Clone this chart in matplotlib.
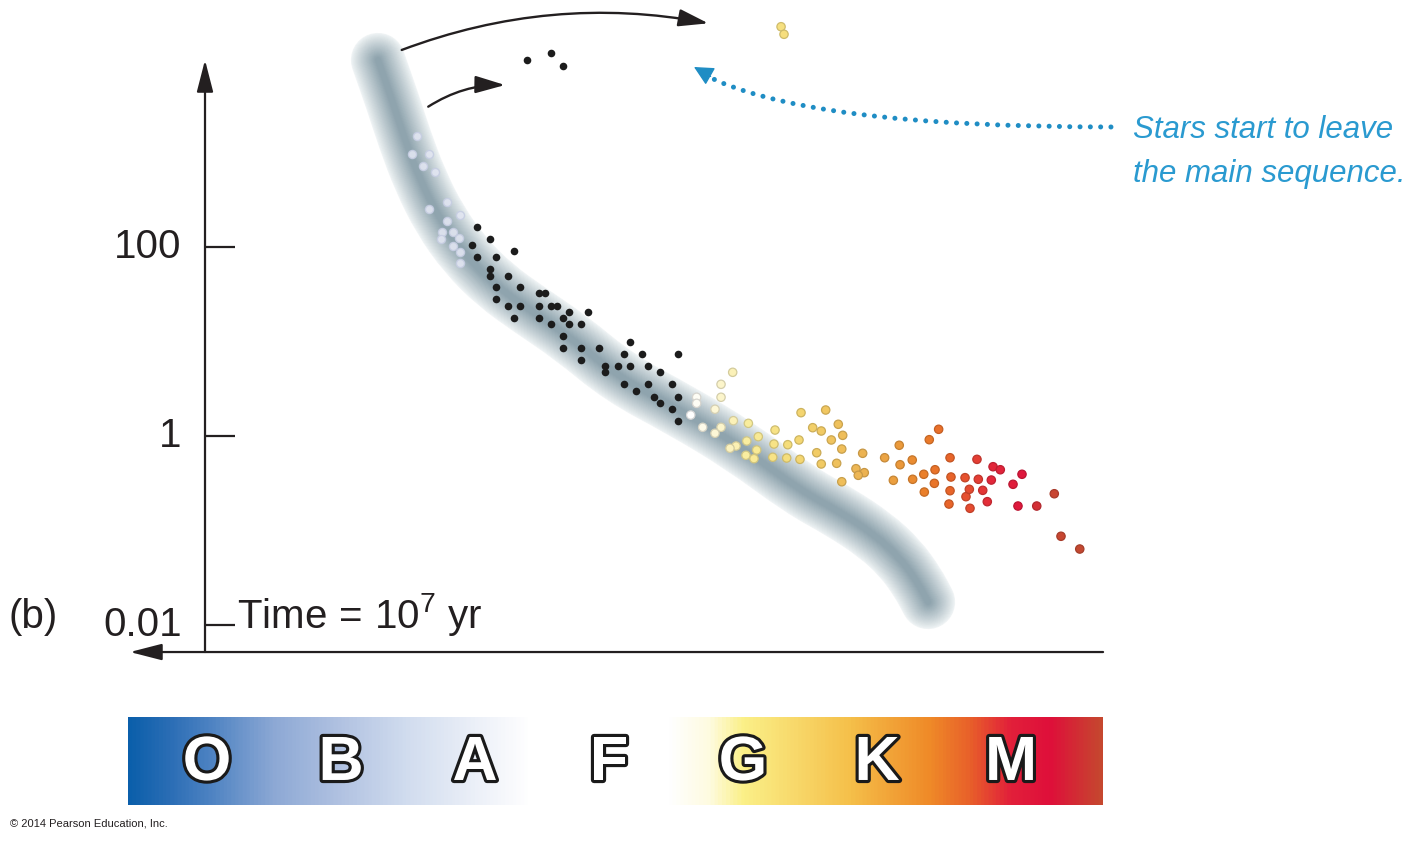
import numpy as np
import matplotlib
matplotlib.use('Agg')
import matplotlib.pyplot as plt
from matplotlib.colors import LinearSegmentedColormap, to_rgb
from matplotlib.path import Path
from matplotlib.patches import PathPatch
import matplotlib.patheffects as pe

plt.rcParams['font.family'] = ['Liberation Sans', 'DejaVu Sans']
plt.rcParams['mathtext.fontset'] = 'custom'
plt.rcParams['mathtext.rm'] = 'Liberation Sans'
plt.rcParams['mathtext.it'] = 'Liberation Sans:italic'
plt.rcParams['mathtext.bf'] = 'Liberation Sans:bold'

# ---------------- data ----------------
# x: spectral position (O=0 ... M=6), y: log10(L / Lsun)
spectral_classes = ['O', 'B', 'A', 'F', 'G', 'K', 'M']
class_pos = [0, 1, 2, 3, 4, 5, 6]
lum_ticks = [2, 0, -2]
lum_tick_labels = ['100', '1', '0.01']

# zero-age main sequence band (centre line)
ms_track_s = [1.276, 1.381, 1.478, 1.590, 1.739, 1.925, 2.149, 2.410, 2.709,
              3.082, 3.530, 3.978, 4.425, 4.724, 4.985, 5.172, 5.306, 5.381]
ms_track_logL = [3.979, 3.556, 3.132, 2.709, 2.286, 1.915, 1.598, 1.333, 1.048,
                 0.614, 0.275, -0.106, -0.571, -0.804, -1.048, -1.291, -1.556, -1.757]

# faint (pale) B stars near the top of the band
pale_s = [1.565, 1.528, 1.657, 1.614, 1.704, 1.659, 1.793, 1.886, 1.793, 1.751,
          1.838, 1.746, 1.883, 1.838, 1.888, 1.888]
pale_logL = [3.178, 2.984, 2.984, 2.860, 2.797, 2.402, 2.473, 2.339, 2.278, 2.156,
             2.156, 2.085, 2.092, 2.014, 1.950, 1.828]

# main-sequence stars (black)
black_s = [2.015, 2.112, 1.978, 2.289, 2.015, 2.157, 2.112, 2.112, 2.246, 2.157,
           2.338, 2.475, 2.520, 2.157, 2.246, 2.338, 2.475, 2.565, 2.610, 2.699,
           2.841, 2.289, 2.475, 2.654, 2.699, 2.565, 2.791, 2.654, 2.654, 2.791,
           2.928, 3.154, 2.791, 3.110, 3.244, 3.517, 2.972, 2.972, 3.065, 3.154,
           3.291, 3.381, 3.110, 3.199, 3.291, 3.472, 3.336, 3.381, 3.517, 3.472,
           3.517]
black_logL = [2.215, 2.085, 2.018, 1.958, 1.897, 1.897, 1.764, 1.696, 1.696, 1.574,
              1.574, 1.510, 1.510, 1.447, 1.376, 1.376, 1.376, 1.376, 1.376, 1.315,
              1.315, 1.252, 1.252, 1.252, 1.188, 1.188, 1.188, 1.058, 0.928, 0.928,
              0.928, 0.992, 0.801, 0.865, 0.865, 0.865, 0.738, 0.674, 0.738, 0.738,
              0.738, 0.674, 0.547, 0.479, 0.547, 0.547, 0.416, 0.352, 0.416, 0.289,
              0.159]

# massive stars that have left the main sequence
giant_black_s = [2.388, 2.565, 2.659]
giant_black_logL = [3.979, 4.050, 3.915]
giant_yellow_s = [4.284, 4.306]
giant_yellow_logL = [4.331, 4.251]

# cooler stars (coloured by spectral position)
cool_s = [3.923, 3.836, 3.836, 3.654, 3.654, 3.791, 3.610, 3.928, 4.040, 3.699,
          3.836, 3.791, 4.239, 4.433, 4.617, 4.711, 4.520, 4.584, 4.744, 4.659,
          4.114, 4.418, 4.028, 4.231, 4.334, 3.948, 3.903, 4.102, 4.737, 4.550,
          4.893, 4.022, 4.082, 4.222, 4.326, 4.425, 4.584, 4.699, 5.166, 5.057,
          5.172, 4.843, 4.905, 4.860, 4.737, 5.122, 5.263, 5.266,
          5.390, 5.460, 5.349, 5.433, 5.428, 5.353, 5.545, 5.552, 5.545, 5.537,
          5.657, 5.664, 5.689, 5.694, 5.746, 5.756, 5.789, 5.823, 5.853, 5.866,
          5.920, 6.015, 6.082, 6.052, 6.192, 6.323, 6.373, 6.513]
cool_logL = [0.674, 0.547, 0.410, 0.410, 0.346, 0.283, 0.222, 0.162, 0.134, 0.092,
             0.092, 0.029, 0.063, 0.247, 0.275, 0.124, 0.088, 0.053, 0.007, -0.042,
             -0.007, -0.042, -0.053, -0.085, -0.092, -0.106, -0.130, -0.148, -0.138, -0.177,
             -0.183, -0.204, -0.240, -0.225, -0.233, -0.247, -0.296, -0.289, -0.098, -0.230,
             -0.304, -0.346, -0.388, -0.416, -0.484, -0.469, -0.254, -0.458,
             -0.039, 0.071, -0.405, -0.357, -0.501, -0.593, -0.230, -0.434, -0.579, -0.720,
             -0.441, -0.642, -0.564, -0.765, -0.247, -0.458, -0.575, -0.695, -0.466, -0.325,
             -0.357, -0.511, -0.405, -0.741, -0.741, -0.611, -1.061, -1.196]

# ---------------- figure ----------------
fig = plt.figure(figsize=(14.11, 8.41), dpi=100)
ax = fig.add_axes([0, 0, 1, 1])
XLIM = (-1.5448, 8.985)
YLIM = (-4.2857, 4.6138)
ax.axis('off')

ink = '#231f20'

# main-sequence band (soft tube along a smoothed centre line)
pts = np.column_stack([ms_track_s, ms_track_logL])
mids = (pts[:-1] + pts[1:]) / 2
verts = [pts[0], mids[0]]
codes = [Path.MOVETO, Path.LINETO]
for k in range(1, len(pts) - 1):
    verts += [pts[k], mids[k]]
    codes += [Path.CURVE3, Path.CURVE3]
verts.append(pts[-1])
codes.append(Path.LINETO)
band_path = Path(verts, codes)

c_out = np.array(to_rgb('#f0f4f5'))
c_in = np.array(to_rgb('#8fa4ae'))
n_layers = 30
for i in range(n_layers):
    t = i / (n_layers - 1)
    lw = 39 * (1 - t) + 4 * t
    w = t ** 0.9
    col = c_out * (1 - w) + c_in * w
    ax.add_patch(PathPatch(band_path, fill=False, edgecolor=col, lw=lw,
                           capstyle='round', joinstyle='round', zorder=1))

# stars
ax.scatter(pale_s, pale_logL, s=34, facecolor='#e2e6f2', edgecolor='#c6cde2',
           linewidth=1.0, alpha=0.9, zorder=3)
ax.scatter(black_s, black_logL, s=30, color='#1c1c1c', linewidth=0, zorder=3)
ax.scatter(giant_black_s, giant_black_logL, s=30, color='#1c1c1c', linewidth=0, zorder=3)

star_stops = [(3.60, '#ffffff'), (3.85, '#fcf4c8'), (4.05, '#f9ec9a'), (4.35, '#f5dc78'),
              (4.60, '#f1c862'), (4.90, '#ecb352'), (5.15, '#eb9c3c'), (5.35, '#ea7f2a'),
              (5.55, '#e8642a'), (5.70, '#e54a30'), (5.85, '#e2283a'), (6.10, '#df163c'),
              (6.28, '#c94432'), (6.60, '#c14a30')]
s0, s1 = star_stops[0][0], star_stops[-1][0]
star_cmap = LinearSegmentedColormap.from_list(
    'stars', [((v - s0) / (s1 - s0), c) for v, c in star_stops])
cool_face = star_cmap((np.array(cool_s) - s0) / (s1 - s0))
cool_edge = cool_face.copy()
cool_edge[:, :3] *= 0.84
ax.scatter(cool_s, cool_logL, s=36, c=cool_face, edgecolors=cool_edge,
           linewidths=0.9, zorder=3)
gy_face = star_cmap((np.array(giant_yellow_s) - s0) / (s1 - s0))
gy_edge = gy_face.copy()
gy_edge[:, :3] *= 0.84
ax.scatter(giant_yellow_s, giant_yellow_logL, s=36, c=gy_face, edgecolors=gy_edge,
           linewidths=0.9, zorder=3)

# axes (arrows)
ax.annotate('', xy=(-0.0149, 3.979), xytext=(-0.0149, -2.286),
            arrowprops=dict(arrowstyle='-|>,head_length=1.4,head_width=0.36',
                            mutation_scale=14, lw=1.6, color=ink,
                            shrinkA=0, shrinkB=0), zorder=4)
ax.annotate('', xy=(-0.575, -2.286), xytext=(6.687, -2.286),
            arrowprops=dict(arrowstyle='-|>,head_length=1.4,head_width=0.36',
                            mutation_scale=14, lw=1.6, color=ink,
                            shrinkA=0, shrinkB=0), zorder=4)
ax.hlines(lum_ticks, -0.0149, 0.209, color=ink, lw=1.6, zorder=4)
for v, lab in zip(lum_ticks, lum_tick_labels):
    ax.text(-0.19, v, lab, fontsize=29, ha='right', va='center', color=ink)

ax.text(-1.485, -2.03, '(b)', fontsize=29, ha='left', va='baseline', color=ink)
ax.text(0.224, -2.03, r'Time$\,=\,$10$^{7}$ yr', fontsize=29, ha='left',
        va='baseline', color=ink)

# evolution arrows
ax.annotate('', xy=(3.741, 4.367), xytext=(1.453, 4.085),
            arrowprops=dict(arrowstyle='-|>,head_length=1.3,head_width=0.38',
                            mutation_scale=14, lw=1.7, color=ink,
                            connectionstyle='arc3,rad=-0.14',
                            shrinkA=0, shrinkB=0), zorder=4)
ax.annotate('', xy=(2.224, 3.714), xytext=(1.651, 3.485),
            arrowprops=dict(arrowstyle='-|>,head_length=1.3,head_width=0.38',
                            mutation_scale=14, lw=1.7, color=ink,
                            connectionstyle='arc3,rad=-0.15',
                            shrinkA=0, shrinkB=0), zorder=4)

# blue dotted annotation arrow
blue = '#1f8dc4'
ax.annotate('', xy=(3.701, 3.831), xytext=(6.746, 3.270),
            arrowprops=dict(arrowstyle='-', lw=3.6, color=blue,
                            linestyle=(0, (0.01, 2.05)), capstyle='round',
                            connectionstyle='angle3,angleA=0,angleB=-28',
                            shrinkA=0, shrinkB=0), zorder=4)
ax.annotate('', xy=(3.634, 3.905), xytext=(3.758, 3.805),
            arrowprops=dict(arrowstyle='-|>,head_length=1.2,head_width=0.6',
                            mutation_scale=10, lw=1.0, color=blue,
                            shrinkA=0, shrinkB=0), zorder=4)
ax.text(6.910, 3.153, 'Stars start to leave', fontsize=22.5, style='italic',
        color='#2a9ad0', ha='left', va='baseline')
ax.text(6.910, 2.688, 'the main sequence.', fontsize=22.5, style='italic',
        color='#2a9ad0', ha='left', va='baseline')

# spectral-class colour bar
bar_stops = [(-0.59, '#0b5fab'), (-0.30, '#2a6db5'), (0.00, '#4c82c2'), (0.50, '#8ea9d5'),
             (1.00, '#b2c3e2'), (1.50, '#d2ddef'), (2.00, '#ecf0f8'), (2.40, '#ffffff'),
             (3.45, '#ffffff'), (3.75, '#fefbe0'), (4.00, '#fbf088'), (4.40, '#f8d86a'),
             (4.80, '#f5c04a'), (5.00, '#f3ad3e'), (5.40, '#ef8a28'), (5.70, '#e8602a'),
             (6.00, '#e2203a'), (6.30, '#df0f3a'), (6.679, '#c6472f')]
b0, b1 = bar_stops[0][0], bar_stops[-1][0]
bar_cmap = LinearSegmentedColormap.from_list(
    'bar', [((v - b0) / (b1 - b0), c) for v, c in bar_stops])
grad = np.linspace(0, 1, 1200)[None, :]
ax.imshow(grad, extent=[b0, b1, -3.905, -2.984], aspect='auto', cmap=bar_cmap,
          interpolation='bilinear', zorder=1)
for pos, letter in zip(class_pos, spectral_classes):
    ax.text(pos, -3.640, letter, fontsize=45, fontweight='bold', color='white',
            ha='center', va='baseline', zorder=5,
            path_effects=[pe.withStroke(linewidth=4.5, foreground='#1a1a1a')])

ax.text(-1.470, -4.127, '\u00a9 2014 Pearson Education, Inc.', fontsize=8,
        ha='left', va='baseline', color=ink)

ax.set_xlim(*XLIM)
ax.set_ylim(*YLIM)
fig.savefig('out.png', dpi=100)
